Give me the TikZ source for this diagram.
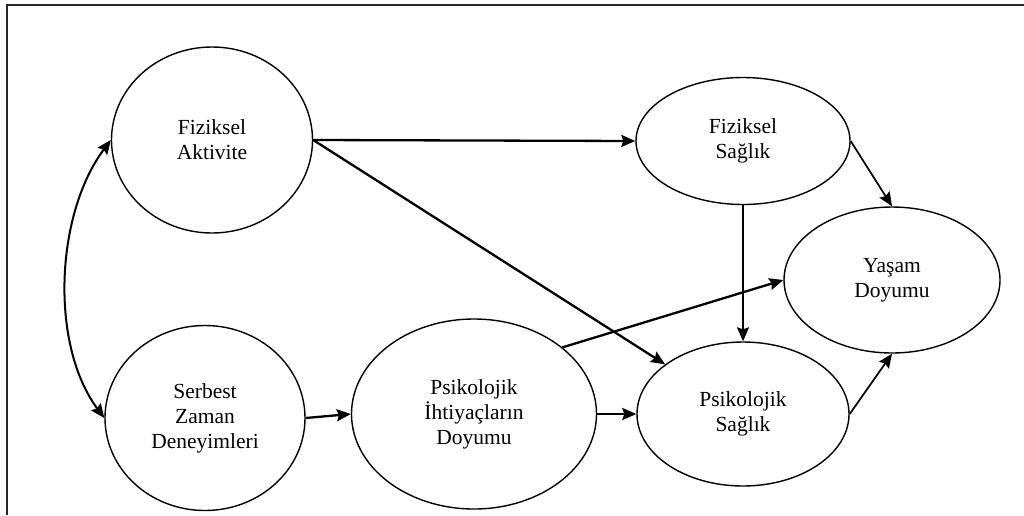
\documentclass[tikz,border=0pt]{standalone}
\usepackage{fontspec}
\setmainfont{Liberation Serif}
\newfontfamily\diagfont{Liberation Serif}
\usetikzlibrary{shapes.geometric,arrows.meta}
\begin{document}
\begin{tikzpicture}[x=1pt,y=-1pt,
  var/.style={ellipse,draw,line width=1.4pt,inner sep=0pt,align=center,
    font=\diagfont\fontsize{21.5}{25}\selectfont},
  tip/.style={-{Stealth[length=14pt,width=12pt,inset=2pt]}},
  thickarr/.style={tip,line width=2.3pt},
  thinarr/.style={tip,line width=1.7pt},
  frame/.style={line width=1.6pt,draw=black!85}]
\useasboundingbox (0,0) rectangle (1024,515);
\coordinate (fb) at (7,515);
\coordinate (ftl) at (7,5);
\coordinate (fr) at (1024,5);
\draw[frame] (fb) -- (ftl) -- (fr);

\node[var,minimum width=201pt,minimum height=186pt] (FA) at (212,140) {Fiziksel\\Aktivite};
\node[var,minimum width=214pt,minimum height=127pt] (FS) at (743,141) {Fiziksel\\Sağlık};
\node[var,minimum width=216pt,minimum height=146pt] (YD) at (892,280) {Yaşam\\Doyumu};
\node[var,minimum width=200pt,minimum height=185pt] (SZ) at (205,418) {Serbest\\Zaman\\Deneyimleri};
\node[var,minimum width=245pt,minimum height=190pt] (PI) at (474,414) {Psikolojik\\İhtiyaçların\\Doyumu};
\node[var,minimum width=212pt,minimum height=144pt] (PS) at (743,414) {Psikolojik\\Sağlık};

\draw[thickarr] (FA.east) -- (FS.west);
\draw[thickarr] (FA.east) -- (PS);
\draw[thinarr] (FS.east) -- (YD.north);
\draw[thinarr] (FS.south) -- (PS.north);
\draw[thickarr] (PI.37) -- (YD.west);
\draw[thinarr] (PS.east) -- (YD.south);
\draw[thickarr] (SZ.east) -- (PI.west);
\draw[thickarr] (PI.east) -- (PS.west);
\draw[line width=2pt,{Stealth[length=14pt,width=12pt,inset=2pt]}-{Stealth[length=14pt,width=12pt,inset=2pt]}]
  (FA.west) .. controls (55,215) and (50,345) .. (SZ.west);
\end{tikzpicture}
\end{document}
